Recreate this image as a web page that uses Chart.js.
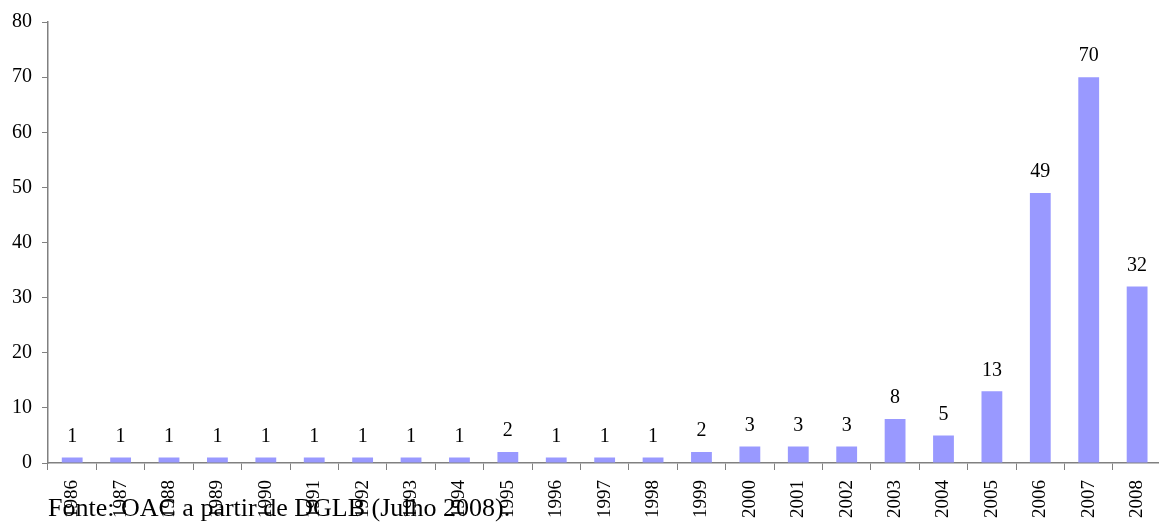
<!DOCTYPE html>
<html>
<head>
<meta charset="utf-8">
<script src="https://cdn.jsdelivr.net/npm/chart.js@4.4.0/dist/chart.umd.min.js"></script>
<style>
  html, body { margin: 0; padding: 0; background: #fff; overflow: hidden; }
  #wrap { position: relative; width: 1159px; height: 530px; overflow: hidden; }
  #c { position: absolute; left: 0; top: 0; }
  #source { position: absolute; left: 48px; top: 495px; font-family: "Liberation Serif", "Times New Roman", serif; font-size: 26px; line-height: 26px; color: #000; white-space: nowrap; }
</style>
</head>
<body>
<div id="wrap">
  <canvas id="c" width="1170" height="530"></canvas>
  <div id="source">Fonte: OAC a partir de DGLB (Julho 2008).</div>
</div>
<script>
const categories = ["1986","1987","1988","1989","1990","1991","1992","1993","1994","1995","1996","1997","1998","1999","2000","2001","2002","2003","2004","2005","2006","2007","2008"];
const values = [1,1,1,1,1,1,1,1,1,2,1,1,1,2,3,3,3,8,5,13,49,70,32];
const yTicks = [0,10,20,30,40,50,60,70,80];

const FONT = "'Liberation Serif', 'Times New Roman', serif";

const valueLabels = {
  id: 'valueLabels',
  afterDatasetsDraw(chart) {
    const ctx = chart.ctx;
    const meta = chart.getDatasetMeta(0);
    ctx.save();
    ctx.font = "20px " + FONT;
    ctx.fillStyle = "#000";
    ctx.textAlign = "center";
    ctx.textBaseline = "middle";
    meta.data.forEach((bar, i) => {
      ctx.fillText(String(values[i]), bar.x, bar.y - 21);
    });
    ctx.restore();
  }
};

new Chart(document.getElementById('c'), {
  type: 'bar',
  data: {
    labels: categories,
    datasets: [{
      data: values,
      backgroundColor: '#9999FF',
      borderWidth: 0,
      categoryPercentage: 1.0,
      barPercentage: 0.43
    }]
  },
  options: {
    responsive: false,
    animation: false,
    layout: { padding: { top: 16, right: 4, left: 0, bottom: 0 } },
    plugins: { legend: { display: false }, tooltip: { enabled: false } },
    scales: {
      x: {
        grid: { display: true, drawOnChartArea: false, offset: true, tickLength: 7, color: '#808080', tickColor: '#808080' },
        border: { color: '#808080', width: 1.5 },
        ticks: { color: '#000', font: { family: FONT, size: 19 }, minRotation: 90, maxRotation: 90, padding: 10, autoSkip: false },
        afterFit(scale) { scale.height = 67; }
      },
      y: {
        min: 0, max: 80,
        afterBuildTicks(scale) { scale.ticks = yTicks.map(v => ({ value: v })); },
        grid: { display: true, drawOnChartArea: false, tickLength: 6, color: '#808080', tickColor: '#808080' },
        border: { color: '#808080', width: 1.5 },
        ticks: { color: '#000', font: { family: FONT, size: 20 }, padding: 10 },
        afterFit(scale) { scale.width = 48; }
      }
    }
  },
  plugins: [valueLabels]
});
</script>
</body>
</html>
